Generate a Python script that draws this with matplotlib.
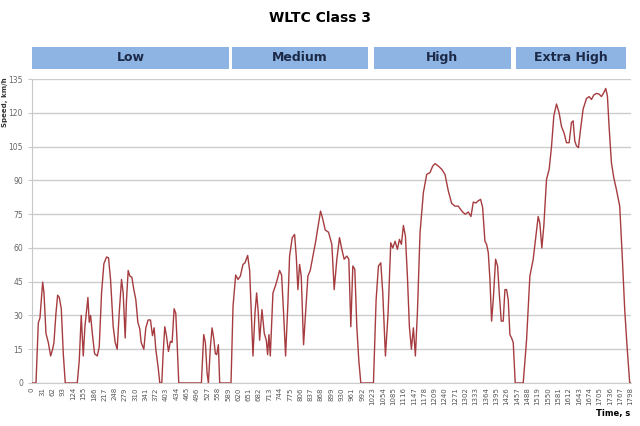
import matplotlib.pyplot as plt
import numpy as np

# WLTC Class 3 speed trace (time s, speed km/h)
low_t = [0, 12, 19, 24, 32, 36, 42, 49, 56, 62, 66, 72, 77, 82, 88, 94, 100, 136, 142, 148,
         154, 159, 168, 172, 176, 182, 188, 196, 202, 209, 216, 224, 230, 236, 244, 250, 256, 262, 269, 274,
         280, 284, 289, 294, 300, 306, 312, 318, 324, 328, 336, 342, 349, 356, 362, 367, 372, 379, 384, 390,
         394, 399, 404, 410, 416, 421, 427, 432, 436, 441, 509, 516, 521, 526, 530, 536, 541, 546, 551, 555,
         560, 564, 598]
low_v = [0, 0, 26.7, 29, 44.8, 40, 22, 18, 12, 15, 18, 31, 39, 38, 33, 13, 0, 0, 10, 30,
         12, 25, 38, 27, 30, 21, 13, 12, 16, 40, 53, 56, 55.6, 46, 25, 18, 15, 31, 46, 40,
         20, 37, 50, 47.5, 47, 41.5, 37, 27, 24, 18, 15, 24.5, 28, 28, 21, 24.5, 15, 7, 0, 0,
         13, 25, 21, 14, 18.5, 18, 33, 31, 18, 0, 0, 21.5, 18, 4.5, 0, 16, 24.5, 20, 13, 12.6,
         17, 0, 0]

med_t = [604, 612, 619, 626, 634, 640, 648, 654, 659, 664, 670, 675, 680, 684, 691, 698, 704, 708, 712, 716,
         724, 731, 737, 744, 750, 756, 762, 769, 774, 782, 789, 794, 799, 804, 809, 816, 822, 829, 836, 844,
         852, 860, 867, 874, 881, 891, 901, 908, 916, 924, 931, 938, 946, 952, 958, 964, 970, 976, 982, 988,
         1026]
med_v = [34, 48, 46, 47.5, 52.7, 53.4, 56.7, 50, 31, 12, 31, 40, 31, 19, 32.6, 22, 19, 12.6, 21.5, 12,
         40, 43, 46, 50, 48, 31, 12, 35.6, 56.4, 64.6, 66, 56.4, 41.5, 52.7, 47.5, 17, 31, 47.5, 50, 56.4,
         62.6, 70, 76.4, 72.7, 68, 67, 61.6, 41.5, 55, 64.6, 59.4, 55, 56.4, 55, 25, 52, 50.5, 25, 10, 0,
         0]

high_t = [1034, 1041, 1048, 1054, 1062, 1070, 1078, 1084, 1091, 1098, 1104, 1110, 1116, 1122, 1128, 1134,
          1140, 1146, 1152, 1158, 1166, 1176, 1186, 1196, 1204, 1211, 1221, 1231, 1241, 1251, 1261, 1271,
          1281, 1286, 1294, 1302, 1311, 1319, 1326, 1334, 1341, 1348, 1354, 1361, 1366, 1371, 1376, 1381,
          1386, 1393, 1399, 1404, 1410, 1416, 1421, 1426, 1431, 1436, 1441, 1446, 1452, 1476]
high_v = [37, 52, 53.4, 40, 12, 31, 62.3, 60, 63, 59.4, 63.8, 61.6, 70, 65.3, 47.5, 25,
          15, 24.5, 12, 31, 66.8, 84.6, 92.7, 93.5, 96.4, 97.5, 96.4, 95, 92.7, 85.3, 79.8, 78.6,
          78.6, 77.5, 76, 75, 76, 74, 80.4, 80, 81, 81.6, 78, 63, 61.6, 58, 46, 27.5,
          37, 55, 52, 40, 27.5, 27.5, 41.5, 41.5, 37, 21.5, 20, 18, 0, 0]

xhigh_t = [1486, 1496, 1506, 1514, 1521, 1526, 1532, 1538, 1546, 1554, 1561, 1568, 1576, 1584, 1591,
           1599, 1606, 1614, 1621, 1626, 1631, 1636, 1642, 1648, 1656, 1666, 1674, 1681, 1688, 1696,
           1704, 1711, 1718, 1724, 1729, 1734, 1741, 1748, 1756, 1766, 1774, 1781, 1788, 1796, 1800]
xhigh_v = [19, 47.5, 55, 65.3, 74, 71, 60, 70, 90.5, 95, 105, 118.7, 124, 120, 114,
           111, 106.8, 106.8, 115.8, 116.5, 107.5, 105.4, 104.6, 112.4, 121.7, 126.4, 127.3, 126, 128, 128.7,
           128.4, 127.3, 129, 130.9, 127.6, 114, 98, 91.3, 86, 78.6, 55, 32.6, 16.3, 0, 0]

phases = ["Low", "Medium", "High", "Extra High"]
phase_edges = [(0, 592), (602, 1010), (1027, 1438), (1453, 1786)]  # header bands, seconds
y_ticks = np.arange(0, 136, 15)
x_ticks = np.arange(0, 1799, 31)

t = low_t + med_t + high_t + xhigh_t
v = low_v + med_v + high_v + xhigh_v

fig = plt.figure(figsize=(6.4, 4.26), dpi=100)
ax = fig.add_axes([0.05, 0.101, 0.936, 0.713])

ax.plot(t, v, color="#a63c3f", lw=1.0, zorder=3)

ax.set_xlim(0, 1800)
ax.set_ylim(0, 135)
ax.set_yticks(y_ticks)
ax.set_xticks(x_ticks)
ax.set_xticklabels([str(x) for x in x_ticks], rotation=90, fontsize=5, color="#555555")
ax.tick_params(axis="y", labelsize=5.5, labelcolor="#666666", length=3, color="#c8c8c8")
ax.tick_params(axis="x", length=0, pad=3)
ax.grid(axis="y", color="#cccccc", lw=1.0)
ax.set_axisbelow(True)
for side in ["top", "right"]:
    ax.spines[side].set_visible(False)
ax.spines["left"].set_color("#c8c8c8")
ax.spines["bottom"].set_color("#cccccc")

# phase header bands above the plot
for name, (a, b) in zip(phases, phase_edges):
    ax.add_patch(plt.Rectangle((a, 1.035), b - a, 0.072, transform=ax.get_xaxis_transform(),
                               facecolor="#8eb4e3", edgecolor="none", clip_on=False))
    ax.text((a + b) / 2, 1.071, name, transform=ax.get_xaxis_transform(), ha="center", va="center",
            fontsize=9, fontweight="bold", color="#1c2a48")

fig.text(0.5, 0.958, "WLTC Class 3", ha="center", va="center", fontsize=10, fontweight="bold")
fig.text(0.008, 0.76, "Speed, km/h", rotation=90, ha="center", va="center", fontsize=5,
         fontweight="bold", color="#333333")
fig.text(0.985, 0.018, "Time, s", ha="right", va="bottom", fontsize=6, fontweight="bold")

fig.savefig("out.png", dpi=100)
